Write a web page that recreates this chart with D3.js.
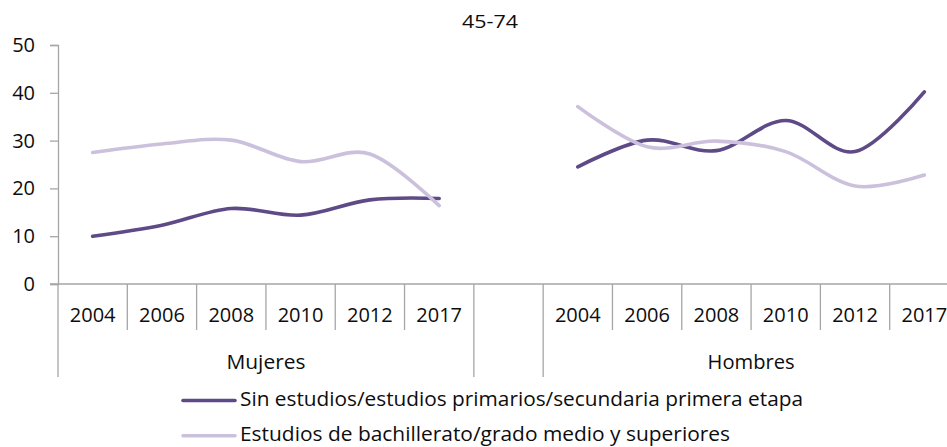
<!DOCTYPE html>
<html>
<head>
<meta charset="utf-8">
<script src="https://cdn.jsdelivr.net/npm/d3@7"></script>
<style>
  html, body { margin: 0; padding: 0; background: #fff; }
  svg { display: block; }
  text { font-family: "Open Sans", "Noto Sans", sans-serif; fill: #0d0d0d; }
</style>
</head>
<body>
<svg id="chart" width="947" height="447"></svg>
<script>
const title = "45-74";
const groups = ["Mujeres", "", "Hombres"];
const years = ["2004", "2006", "2008", "2010", "2012", "2017"];
const seriesNames = [
  "Sin estudios/estudios primarios/secundaria primera etapa",
  "Estudios de bachillerato/grado medio y superiores"
];
const mujeresSin  = [10.0, 12.3, 15.8, 14.4, 17.6, 17.9];
const mujeresBach = [27.5, 29.3, 30.1, 25.6, 27.2, 16.4];
const hombresSin  = [24.5, 30.1, 27.9, 34.2, 27.7, 40.2];
const hombresBach = [37.1, 28.7, 29.9, 27.7, 20.5, 22.8];
const yTicks = [0, 10, 20, 30, 40, 50];
const colors = ["#5e4a87", "#ccc1dd"];

const svg = d3.select("#chart");
const axisColor = "#a6a6a6";

// categories: Mujeres years, one blank slot, Hombres years
const cats = [];
years.forEach(y => cats.push({g: "Mujeres", y: y, key: "M" + y}));
cats.push({g: "", y: "", key: "blank"});
years.forEach(y => cats.push({g: "Hombres", y: y, key: "H" + y}));

const x = d3.scaleBand().domain(cats.map(c => c.key)).range([58, 959]).paddingInner(0).paddingOuter(0);
const y = d3.scaleLinear().domain([0, 50]).range([284, 45]);

// Y axis
const yAxis = svg.append("g").attr("transform", "translate(58,0)")
  .call(d3.axisLeft(y).tickValues(yTicks).tickSize(8).tickPadding(6).tickSizeOuter(8));
yAxis.select(".domain").attr("stroke", axisColor).attr("stroke-width", 1.3);
yAxis.selectAll(".tick line").attr("stroke", axisColor).attr("stroke-width", 1.3);
yAxis.selectAll(".tick text").attr("font-size", 20).attr("fill", "#0d0d0d")
  .style("font-family", "'Open Sans', sans-serif").attr("x", -23);

// X axis line
svg.append("line").attr("x1", 50).attr("x2", 959).attr("y1", y(0)).attr("y2", y(0))
  .attr("stroke", axisColor).attr("stroke-width", 1.6);

// separators
const boundaries = [];
cats.forEach((c, i) => {
  const left = x(c.key);
  const prev = cats[i - 1];
  const isGroupBoundary = !prev || prev.g !== c.g;
  boundaries.push({x: left, long: isGroupBoundary});
});
boundaries.push({x: x.range()[1], long: true});
svg.selectAll("line.sep").data(boundaries).enter().append("line")
  .attr("class", "sep")
  .attr("x1", d => d.x).attr("x2", d => d.x)
  .attr("y1", y(0)).attr("y2", d => d.long ? 377 : 330)
  .attr("stroke", axisColor).attr("stroke-width", 1.3);

// year labels
svg.selectAll("text.year").data(cats.filter(c => c.y)).enter().append("text")
  .attr("class", "year")
  .attr("x", d => x(d.key) + x.bandwidth() / 2)
  .attr("y", 322)
  .attr("text-anchor", "middle")
  .attr("font-size", 20)
  .text(d => d.y);

// group labels
groups.filter(g => g).forEach(g => {
  const members = cats.filter(c => c.g === g);
  const x0 = x(members[0].key), x1 = x(members[members.length - 1].key) + x.bandwidth();
  svg.append("text").attr("x", (x0 + x1) / 2).attr("y", 369)
    .attr("text-anchor", "middle").attr("font-size", 20)
    .attr("textLength", g === "Mujeres" ? 79 : 87).attr("lengthAdjust", "spacingAndGlyphs")
    .text(g);
});

// lines
const line = d3.line()
  .x(d => x(d.key) + x.bandwidth() / 2)
  .y(d => y(d.v))
  .curve(d3.curveCardinal.tension(0));

const seriesData = [
  [{prefix: "M", vals: mujeresSin}, {prefix: "H", vals: hombresSin}],
  [{prefix: "M", vals: mujeresBach}, {prefix: "H", vals: hombresBach}]
];
seriesData.forEach((segments, si) => {
  segments.forEach(seg => {
    const pts = years.map((yr, i) => ({key: seg.prefix + yr, v: seg.vals[i]}));
    svg.append("path").datum(pts)
      .attr("d", line)
      .attr("fill", "none")
      .attr("stroke", colors[si])
      .attr("stroke-width", 3.6)
      .attr("stroke-linecap", "round")
      .attr("stroke-linejoin", "round");
  });
});

// title
svg.append("text").attr("x", 490).attr("y", 28).attr("text-anchor", "middle")
  .attr("font-size", 19).attr("textLength", 56).attr("lengthAdjust", "spacingAndGlyphs")
  .text(title);

// legend
const legendY = [400.5, 435.7];
const legendLen = [563, 490];
seriesNames.forEach((name, i) => {
  svg.append("line").attr("x1", 183).attr("x2", 235)
    .attr("y1", legendY[i]).attr("y2", legendY[i])
    .attr("stroke", colors[i]).attr("stroke-width", 3.6).attr("stroke-linecap", "round");
  svg.append("text").attr("x", 240).attr("y", legendY[i] + 5.5)
    .attr("font-size", 19.5)
    .attr("textLength", legendLen[i]).attr("lengthAdjust", "spacingAndGlyphs")
    .text(name);
});
</script>
</body>
</html>
